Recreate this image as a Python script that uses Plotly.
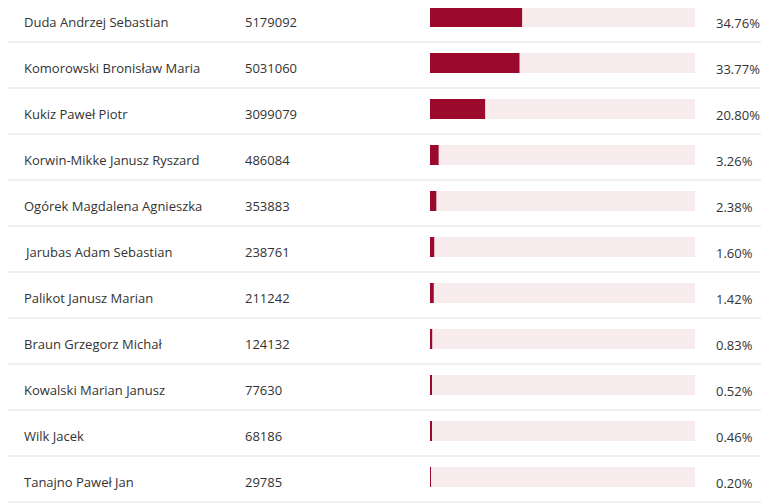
import plotly.graph_objects as go

# candidate results, first round
names = [
    "Duda Andrzej Sebastian",
    "Komorowski Bronisław Maria",
    "Kukiz Paweł Piotr",
    "Korwin-Mikke Janusz Ryszard",
    "Ogórek Magdalena Agnieszka",
    "Jarubas Adam Sebastian",
    "Palikot Janusz Marian",
    "Braun Grzegorz Michał",
    "Kowalski Marian Janusz",
    "Wilk Jacek",
    "Tanajno Paweł Jan",
]
votes = [5179092, 5031060, 3099079, 486084, 353883, 238761, 211242, 124132, 77630, 68186, 29785]
percents = [34.76, 33.77, 20.80, 3.26, 2.38, 1.60, 1.42, 0.83, 0.52, 0.46, 0.20]

# page body has an 8px margin, so the figure is drawn 8px in and shrunk to fit
PAD = 8
W, H = 769 - PAD, 503 - PAD
ROW = 46.0
rows = list(range(len(names)))
y_top = (PAD - 17) / ROW
y_bottom = y_top + H / ROW

BAR_COLOR = "#9b0a2d"
TRACK_COLOR = "#f7ebee"
TEXT_COLOR = "#333333"
FONT = "Open Sans"


def px(x):
    return (x - PAD) / W


fig = go.Figure()

# background track
fig.add_trace(go.Bar(
    x=[100] * len(rows), y=rows, orientation="h",
    width=20 / ROW, marker=dict(color=TRACK_COLOR, line=dict(width=0)),
    hoverinfo="skip", showlegend=False,
))
# value bar
fig.add_trace(go.Bar(
    x=percents, y=rows, orientation="h",
    width=20 / ROW, marker=dict(color=BAR_COLOR, line=dict(width=0)),
    hovertemplate="%{x:.2f}%<extra></extra>", showlegend=False,
))

annotations = []
shapes = []
for r, name, v, p in zip(rows, names, votes, percents):
    annotations.append(dict(x=px(22), y=r + 5 / ROW, xref="paper", yref="y",
                            text=name, showarrow=False, xanchor="left", yanchor="middle"))
    annotations.append(dict(x=px(243), y=r + 5 / ROW, xref="paper", yref="y",
                            text=str(v), showarrow=False, xanchor="left", yanchor="middle"))
    annotations.append(dict(x=px(714), y=r + 6 / ROW, xref="paper", yref="y",
                            text=f"{p:.2f}%", showarrow=False, xanchor="left", yanchor="middle"))
    shapes.append(dict(type="line", xref="paper", yref="y", x0=0, x1=1,
                       y0=r + 25 / ROW, y1=r + 25 / ROW,
                       line=dict(color="#dedede", width=1)))

fig.update_layout(
    width=W, height=H,
    margin=dict(l=0, r=0, t=0, b=0),
    paper_bgcolor="white", plot_bgcolor="white",
    barmode="overlay",
    font=dict(family=FONT, size=13, color=TEXT_COLOR),
    xaxis=dict(domain=[px(430), px(695)], range=[0, 100], visible=False, fixedrange=True),
    yaxis=dict(range=[y_bottom, y_top], visible=False, fixedrange=True),
    annotations=annotations,
    shapes=shapes,
)

fig.write_html("out.html")
